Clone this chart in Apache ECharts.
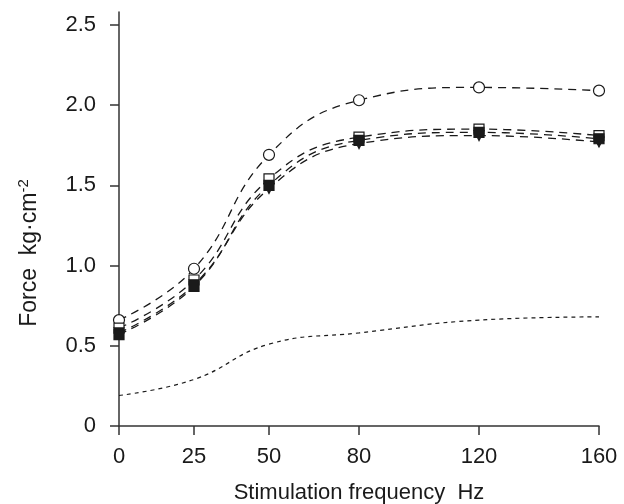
<!DOCTYPE html>
<html>
<head>
<meta charset="utf-8">
<script src="https://cdn.jsdelivr.net/npm/echarts@6/dist/echarts.min.js"></script>
<style>
html,body{margin:0;padding:0;background:#fff;}
#c{width:624px;height:504px;}
</style>
</head>
<body>
<div id="c"></div>
<script>
const frequencies = [0, 25, 50, 80, 120, 160];
const xTickLabels = [0, 25, 50, 80, 120, 160];
const yTickLabels = [0, 0.5, 1.0, 1.5, 2.0, 2.5];
const openCircle = [0.66, 0.98, 1.69, 2.03, 2.11, 2.09];
const openSquare = [0.61, 0.91, 1.54, 1.80, 1.85, 1.81];
const filledSquare = [0.57, 0.87, 1.50, 1.78, 1.83, 1.79];
const filledTriangle = [0.58, 0.88, 1.48, 1.76, 1.81, 1.77];
const lowerCurve = [0.19, 0.29, 0.51, 0.58, 0.66, 0.68];

const FONT = "'Liberation Sans', Arial, Helvetica, sans-serif";
const INK = '#1a1a1a';
const pair = arr => frequencies.map((f, i) => [f, arr[i]]);

function markerSeries(name, data, symbol, fill, rotate) {
  return {
    name, type: 'line', data: pair(data), smooth: 0.45,
    symbol, symbolSize: symbol === 'circle' ? 11 : 10, symbolRotate: rotate || 0,
    showSymbol: true,
    itemStyle: { color: fill, borderColor: INK, borderWidth: 1.2 },
    lineStyle: { color: INK, width: 1.3, type: [8, 6] },
    emphasis: { disabled: true }, z: 3
  };
}

const chart = echarts.init(document.getElementById('c'), null, { renderer: 'canvas' });
chart.setOption({
  backgroundColor: '#fff',
  animation: false,
  grid: { left: 119, right: 25, top: 12, bottom: 78, outerBoundsMode: 'none', containLabel: false },
  xAxis: {
    type: 'value', min: 0, max: 160,
    name: 'Stimulation frequency  Hz', nameLocation: 'middle', nameGap: 56,
    nameTextStyle: { fontFamily: FONT, fontSize: 22, color: INK },
    axisLine: { lineStyle: { color: '#333', width: 1.5 } },
    axisTick: { show: true, length: 9, customValues: xTickLabels, lineStyle: { color: '#333', width: 1.5 } },
    axisLabel: { customValues: xTickLabels, fontFamily: FONT, fontSize: 22, color: INK, margin: 20 },
    splitLine: { show: false }
  },
  yAxis: {
    type: 'value', min: 0, max: 2.58, offset: 10,
    name: 'Force  kg·cm{sup|-2}', nameLocation: 'middle', nameGap: 66, nameRotate: 90,
    nameTextStyle: { fontFamily: FONT, fontSize: 23, color: INK, padding: [0, 68, 0, 0],
      rich: { sup: { fontFamily: FONT, fontSize: 15, color: INK, padding: [0, 0, 12, 0] } } },
    axisLine: { show: true, lineStyle: { color: '#333', width: 1.5 } },
    axisTick: { show: true, length: 9, customValues: yTickLabels, lineStyle: { color: '#333', width: 1.5 } },
    axisLabel: { customValues: yTickLabels, fontFamily: FONT, fontSize: 22, color: INK, margin: 13,
      formatter: v => v === 0 ? '0' : v.toFixed(1) },
    splitLine: { show: false }
  },
  series: [
    {
      name: 'lower', type: 'line', data: pair(lowerCurve), smooth: 0.45, symbol: 'none',
      lineStyle: { color: INK, width: 1.2, type: [4, 4] }, emphasis: { disabled: true }, z: 2
    },
    markerSeries('circle', openCircle, 'circle', '#fff'),
    markerSeries('openSquare', openSquare, 'rect', '#fff'),
    markerSeries('triangle', filledTriangle, 'triangle', INK, 180),
    markerSeries('filledSquare', filledSquare, 'rect', INK)
  ]
});
</script>
</body>
</html>
